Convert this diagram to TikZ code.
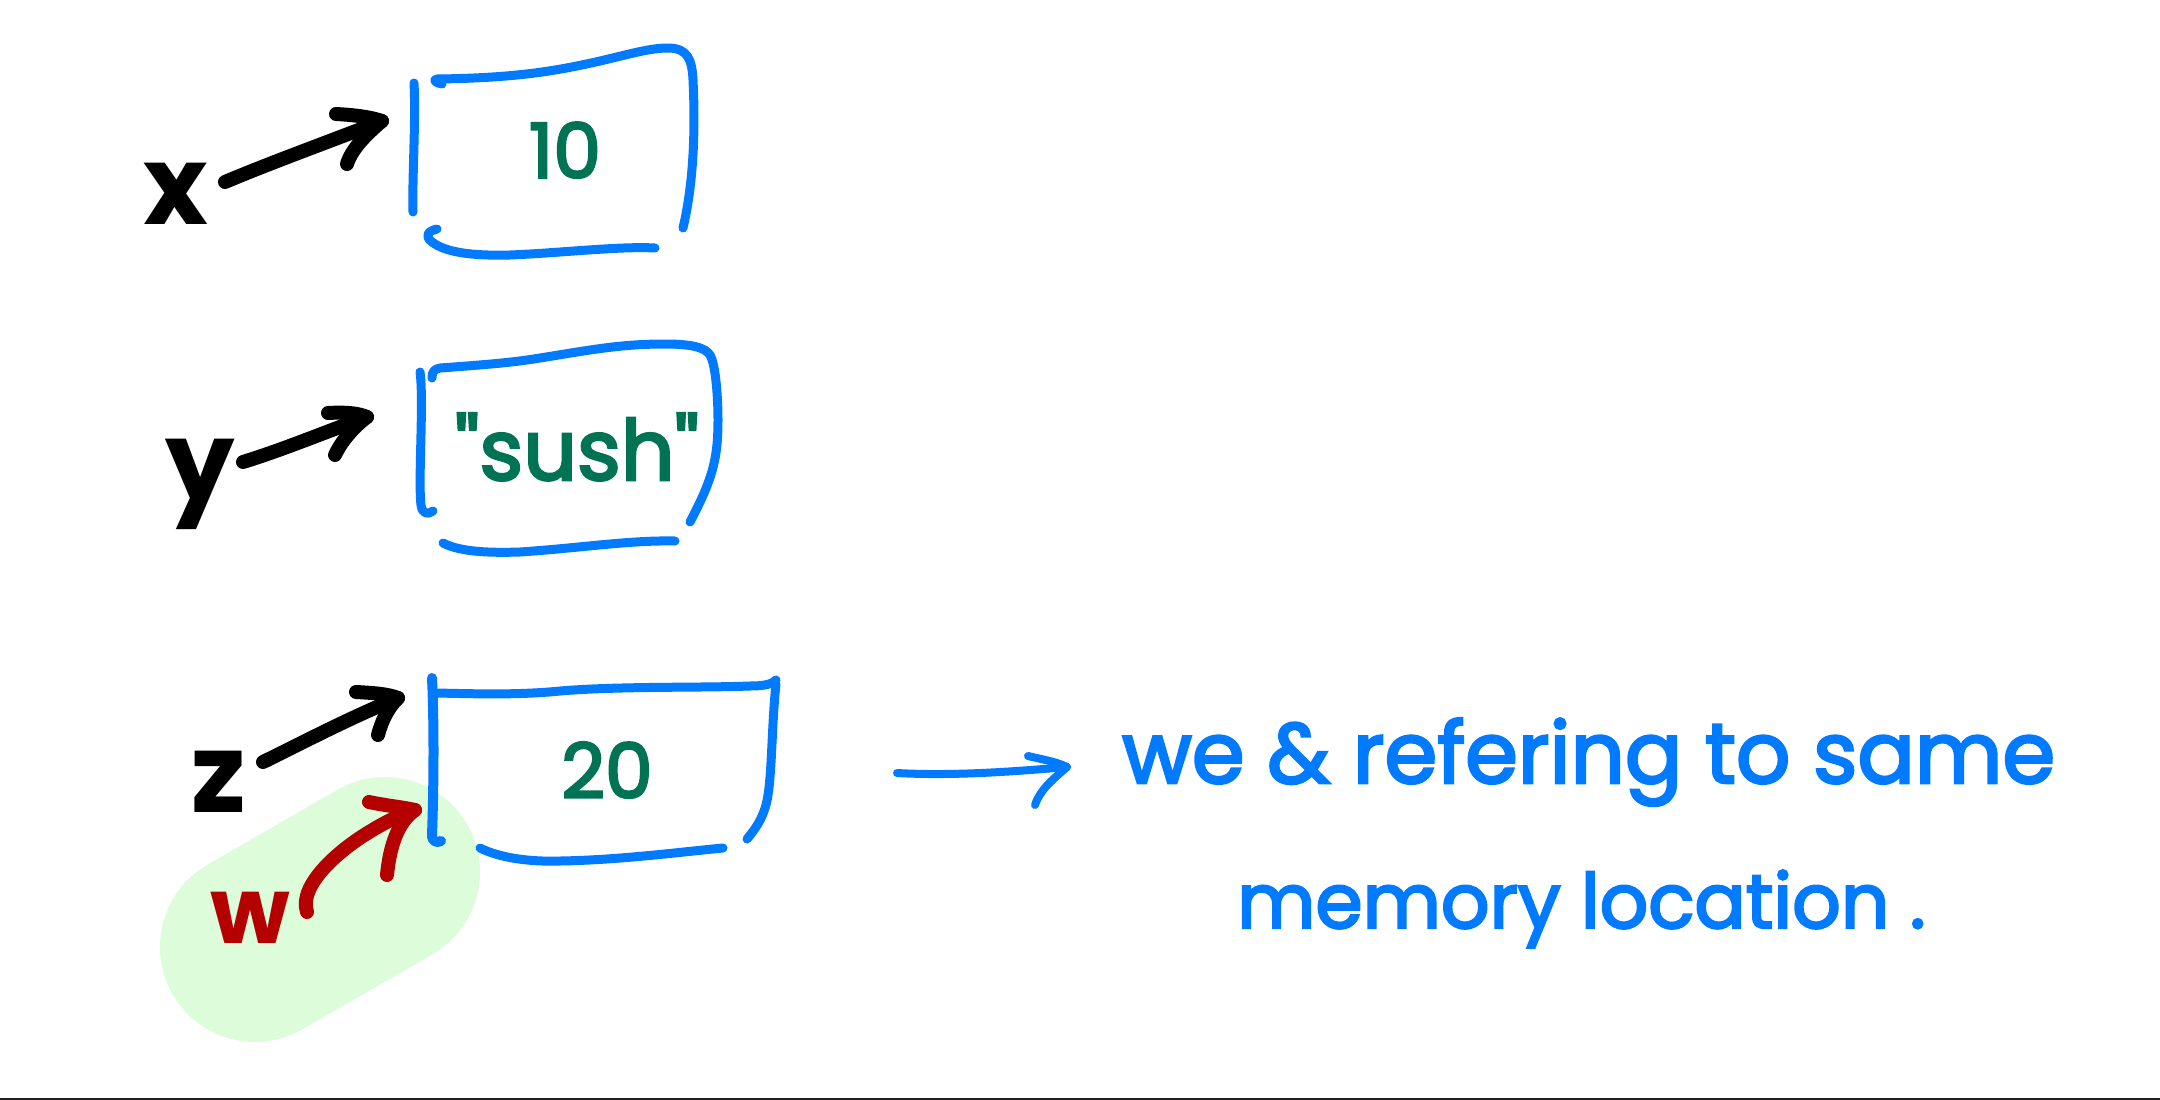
\documentclass[tikz,border=0pt]{standalone}
\usepackage{fontspec}
\setmainfont{Poppins}
\newfontfamily\markerfont{Poppins}[FakeBold=3]
\definecolor{bx}{RGB}{0,122,255}
\definecolor{gt}{RGB}{0,115,84}
\definecolor{rd}{RGB}{180,0,0}
\definecolor{hl}{RGB}{221,252,217}
\definecolor{bl}{RGB}{34,34,34}
\begin{document}
\begin{tikzpicture}[x=1pt,y=-1pt,
  boxline/.style={draw=bx, line width=9pt, line cap=round, line join=round},
  blk/.style={draw=black, line width=14pt, line cap=round, line join=round},
  redarr/.style={draw=rd, line width=14pt, line cap=round, line join=round},
  txtarr/.style={draw=bx, line width=8pt, line cap=round, line join=round},
  lbl/.style={inner sep=0pt, anchor=base, font=\fontsize{110}{120}\selectfont\bfseries},
  val/.style={inner sep=0pt, anchor=base, text=gt, font=\fontsize{76}{84}\markerfont},
  note/.style={inner sep=0pt, anchor=base west, text=bx}]
\fill[white] (0,0) rectangle (2160,1100);
\path[use as bounding box] (0,0) rectangle (2160,1100);
\fill[bl] (0,1097.5) rectangle (2160,1100);

% highlight
\draw[hl, line width=190pt, line cap=round] (255,947) -- (385,872);

% labels
\node[lbl] (lx) at (176,224) {x};
\node[lbl] (ly) at (200,500) {y};
\node[lbl] (lz) at (219,812) {z};
\node[lbl, text=rd, font=\fontsize{92}{100}\selectfont\bfseries] (lw) at (250,943) {w};

% box 1
\draw[boxline] (414,83) .. controls (416,120) and (412,180) .. (413,212);
\draw[boxline] (442,84) .. controls (436,83) and (432,80) .. (437,79) .. controls (520,78) and (560,70) .. (600,61) .. controls (630,54) and (650,48) .. (668,48) .. controls (688,48) and (692,60) .. (693,80) .. controls (696,140) and (692,190) .. (683,228);
\draw[boxline] (437,229) .. controls (428,231) and (424,236) .. (432,242) .. controls (445,252) and (470,256) .. (510,255) .. controls (560,253) and (620,246) .. (655,248);
\node[val] (v1) at (565,178) {10};

% box 2
\draw[boxline] (420,372) .. controls (424,400) and (418,480) .. (421,505) .. controls (422,514) and (428,515) .. (433,511);
\draw[boxline] (432,378) .. controls (432,372) and (434,369) .. (440,368) .. controls (480,365) and (510,363) .. (540,358) .. controls (590,350) and (620,344) .. (665,344) .. controls (690,344) and (705,347) .. (710,355) .. controls (716,365) and (718,400) .. (718,420) .. controls (718,460) and (712,480) .. (690,522);
\draw[boxline] (443,543) .. controls (460,552) and (490,553) .. (520,552) .. controls (580,548) and (630,540) .. (675,541);
\node[val, font=\fontsize{84}{90}\markerfont] (v2) at (577,480) {"sush"};

% box 3
\draw[boxline, line width=10pt] (432,678) .. controls (434,720) and (434,780) .. (432,835) .. controls (432,842) and (437,843) .. (441,841);
\draw[boxline] (437,693) .. controls (480,694) and (520,695) .. (560,691) .. controls (620,686) and (700,688) .. (750,686) .. controls (765,686) and (772,684) .. (776,680);
\draw[boxline] (776,684) .. controls (772,720) and (772,770) .. (768,795) .. controls (765,815) and (757,827) .. (747,839);
\draw[boxline] (480,848) .. controls (500,858) and (530,862) .. (560,861) .. controls (620,860) and (680,852) .. (723,848);
\node[val] (v3) at (607,798) {20};

% arrows
\coordinate (xs) at (225,182); \coordinate (xt) at (382,121);
\draw[blk] (xs) .. controls (270,163) and (320,145) .. (xt);
\draw[blk] (336,114) .. controls (355,115) and (370,117) .. (xt) .. controls (368,133) and (352,148) .. (347,164);

\coordinate (ys) at (243,462); \coordinate (yt) at (367,417);
\draw[blk] (ys) .. controls (285,449) and (325,432) .. (yt);
\draw[blk] (328,413) .. controls (345,412) and (358,413) .. (yt) .. controls (355,426) and (342,440) .. (335,455);

\coordinate (zs) at (263,762); \coordinate (zt) at (398,698);
\draw[blk] (zs) .. controls (300,744) and (345,720) .. (zt);
\draw[blk] (356,692) .. controls (375,693) and (388,694) .. (zt) .. controls (388,708) and (382,720) .. (378,735);

\coordinate (ws) at (307,912); \coordinate (wt) at (415,810);
\draw[redarr] (ws) .. controls (298,885) and (340,850) .. (366,834) .. controls (385,822) and (400,815) .. (wt);
\draw[redarr] (369,802) .. controls (388,806) and (402,807) .. (wt) .. controls (398,822) and (390,845) .. (387,875);

\coordinate (ts) at (897,773); \coordinate (tt) at (1067,767);
\draw[txtarr] (ts) .. controls (950,776) and (1010,772) .. (tt);
\draw[txtarr] (1028,756) .. controls (1045,760) and (1057,762) .. (tt) .. controls (1052,780) and (1040,790) .. (1035,805);

% note
\node[note, font=\fontsize{85}{92}\markerfont] (n1) at (1122,783) {we \& refering to same};
\node[note, font=\fontsize{76}{84}\markerfont] (n2) at (1237,928) {memory location .};
\end{tikzpicture}
\end{document}
